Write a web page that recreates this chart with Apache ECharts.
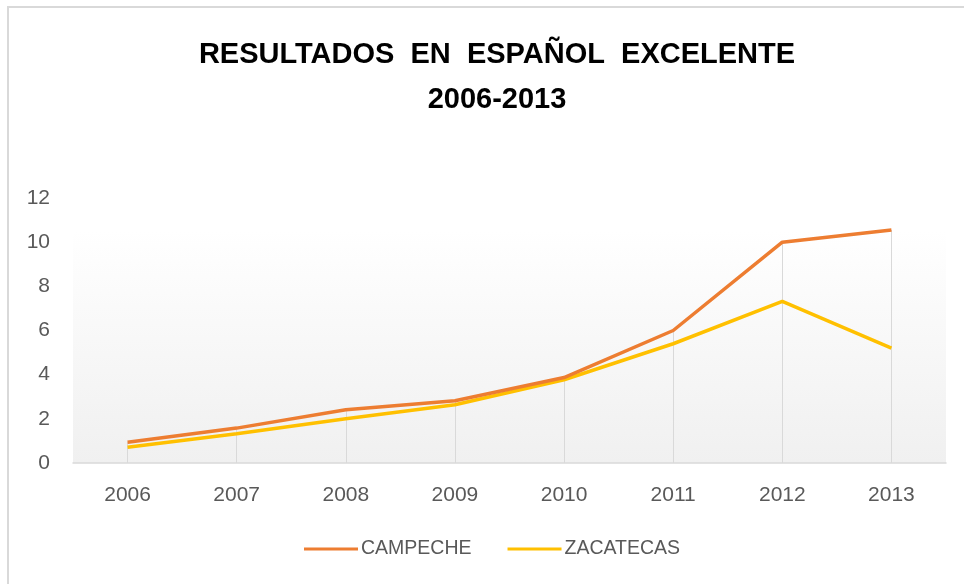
<!DOCTYPE html>
<html>
<head>
<meta charset="utf-8">
<title>Resultados en Español Excelente 2006-2013</title>
<script src="https://cdn.jsdelivr.net/npm/echarts@6/dist/echarts.min.js"></script>
<style>
    html, body {margin: 0; padding: 0; overflow: hidden; background: #fff;}
    #frame {position: absolute; left: 7px; top: 6px; width: 980px; height: 600px; border: 2px solid #d9d9d9; box-sizing: border-box;}
    #main {position: absolute; left: 0; top: 0; width: 964px; height: 584px;}
</style>
</head>
<body>
<div id="frame"></div>
<div id="main"></div>
<script>
    const years = ['2006', '2007', '2008', '2009', '2010', '2011', '2012', '2013'];
    const campeche = [0.94, 1.58, 2.41, 2.82, 3.87, 6.0, 10.0, 10.55];
    const zacatecas = [0.71, 1.32, 2.0, 2.64, 3.77, 5.4, 7.32, 5.2];
    const yTicks = [0, 2, 4, 6, 8, 10, 12];

    // drop lines from the highest point of each year down to the axis
    let dropLines = years.map(function (y, i) {
        let top = Math.max(campeche[i], zacatecas[i]);
        return [{coord: [y, 0]}, {coord: [y, top]}];
    });

    let font = '"Liberation Sans", Arial, sans-serif';
    let myChart = echarts.init(document.getElementById('main'));
    let option = {
        animation: false,
        title: {
            text: 'RESULTADOS  EN  ESPAÑOL  EXCELENTE\n2006-2013',
            left: 492,
            top: 27,
            textAlign: 'center',
            textStyle: {
                fontFamily: font,
                fontWeight: 'bold',
                fontSize: 29,
                lineHeight: 45,
                color: '#000'
            }
        },
        legend: {
            bottom: 20,
            left: 299,
            itemWidth: 54,
            itemHeight: 3,
            itemGap: 36,
            icon: 'rect',
            textStyle: {fontFamily: font, fontSize: 19.5, color: '#595959', padding: [0, 0, 0, -2]},
            data: ['CAMPECHE', 'ZACATECAS']
        },
        grid: {
            left: 73,
            right: 18,
            top: 198,
            bottom: 121,
            show: true,
            borderWidth: 0,
            backgroundColor: new echarts.graphic.LinearGradient(0, 0, 0, 1, [
                {offset: 0, color: '#ffffff'},
                {offset: 0.12, color: '#ffffff'},
                {offset: 1, color: '#f0f0f0'}
            ])
        },
        xAxis: {
            type: 'category',
            data: years,
            boundaryGap: true,
            axisLine: {lineStyle: {color: '#d9d9d9', width: 1.5}},
            axisTick: {show: false},
            axisLabel: {fontFamily: font, fontSize: 21, color: '#595959', margin: 22},
            splitLine: {show: false}
        },
        yAxis: {
            type: 'value',
            min: yTicks[0],
            max: yTicks[yTicks.length - 1],
            interval: 2,
            axisLine: {show: false},
            axisTick: {show: false},
            splitLine: {show: false},
            axisLabel: {fontFamily: font, fontSize: 21, color: '#595959', margin: 23}
        },
        series: [
            {
                name: 'CAMPECHE',
                type: 'line',
                data: campeche,
                symbol: 'none',
                z: 3,
                itemStyle: {color: '#ED7D31'},
                lineStyle: {color: '#ED7D31', width: 3.5},
                markLine: {
                    silent: true,
                    symbol: 'none',
                    label: {show: false},
                    lineStyle: {color: '#d9d9d9', width: 1, type: 'solid'},
                    z: 1,
                    data: dropLines
                }
            },
            {
                name: 'ZACATECAS',
                type: 'line',
                data: zacatecas,
                symbol: 'none',
                z: 2,
                itemStyle: {color: '#FFC000'},
                lineStyle: {color: '#FFC000', width: 3.5}
            }
        ]
    };
    myChart.setOption(option);
</script>
</body>
</html>
